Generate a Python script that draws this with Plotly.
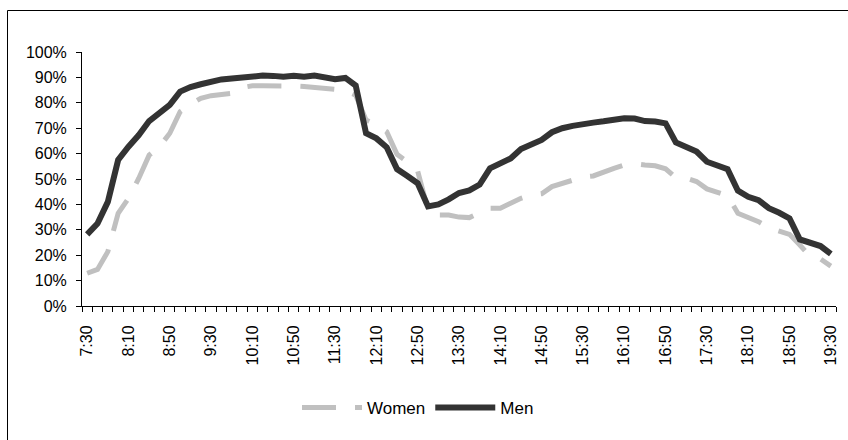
import plotly.graph_objects as go

times = ["7:30", "7:40", "7:50", "8:00", "8:10", "8:20", "8:30", "8:40", "8:50", "9:00",
         "9:10", "9:20", "9:30", "9:40", "9:50", "10:00", "10:10", "10:20", "10:30", "10:40",
         "10:50", "11:00", "11:10", "11:20", "11:30", "11:40", "11:50", "12:00", "12:10", "12:20",
         "12:30", "12:40", "12:50", "13:00", "13:10", "13:20", "13:30", "13:40", "13:50", "14:00",
         "14:10", "14:20", "14:30", "14:40", "14:50", "15:00", "15:10", "15:20", "15:30", "15:40",
         "15:50", "16:00", "16:10", "16:20", "16:30", "16:40", "16:50", "17:00", "17:10", "17:20",
         "17:30", "17:40", "17:50", "18:00", "18:10", "18:20", "18:30", "18:40", "18:50", "19:00",
         "19:10", "19:20", "19:30"]

women = [12.9, 14.4, 21.4, 36.5, 42.4, 50.3, 59.4, 62.7, 68.0, 76.5,
         79.4, 81.8, 82.8, 83.3, 83.7, 86.0, 86.7, 86.7, 86.8, 86.9,
         86.6, 86.4, 86.1, 86.0, 85.3, 84.8, 83.0, 73.2, 71.3, 68.6,
         59.7, 56.8, 53.1, 37.8, 35.8, 35.8, 35.0, 34.8, 36.5, 38.5,
         38.5, 40.4, 42.4, 43.7, 44.2, 47.0, 48.3, 49.9, 50.8, 51.2,
         52.9, 54.2, 55.5, 56.0, 55.5, 55.2, 54.0, 50.5, 50.3, 49.0,
         46.1, 44.5, 43.4, 36.5, 34.8, 33.2, 30.8, 29.5, 28.2, 24.0,
         19.5, 18.5, 15.7]

men = [28.2, 32.5, 41.0, 57.5, 62.7, 67.3, 72.8, 76.0, 79.2, 84.4,
       86.2, 87.3, 88.5, 89.2, 89.6, 90.0, 90.4, 90.7, 90.6, 90.3,
       90.6, 90.3, 90.7, 90.0, 89.3, 89.8, 86.8, 68.0, 66.0, 62.5,
       53.9, 51.2, 48.3, 39.2, 40.0, 42.0, 44.5, 45.5, 47.8, 54.2,
       55.9, 58.1, 61.8, 63.8, 65.4, 68.4, 70.0, 70.9, 71.8, 72.2,
       72.7, 73.5, 73.9, 73.8, 72.8, 72.6, 71.9, 64.4, 62.3, 60.8,
       56.8, 55.5, 53.9, 45.4, 43.0, 41.7, 38.5, 36.7, 34.5, 26.2,
       24.9, 23.6, 20.5]

label_step = 4
y_ticks = [0, 10, 20, 30, 40, 50, 60, 70, 80, 90, 100]
y_labels = ["0%", "10%", "20%", "30%", "40%", "50%", "60%", "70%", "80%", "90%", "100%"]

idx = list(range(len(times)))
tick_idx = idx[::label_step]
tick_txt = [times[i] for i in tick_idx]

FONT = "Liberation Sans, Arial, sans-serif"

fig = go.Figure()
fig.add_trace(go.Scatter(
    x=idx, y=women, name="Women", mode="lines",
    line=dict(color="#C0C0C0", width=5, dash="34px,19px"),
))
fig.add_trace(go.Scatter(
    x=idx, y=men, name="Men", mode="lines",
    line=dict(color="#333333", width=6),
))

W, H = 848, 440
ml, mr, mt, mb = 82, 12, 52, 134
pw, ph = W - ml - mr, H - mt - mb

def px_x(p):
    return (p - ml) / pw

def px_y(p):
    return (H - mb - p) / ph

fig.update_layout(
    width=W, height=H, autosize=False,
    margin=dict(l=ml, r=mr, t=mt, b=mb, pad=0, autoexpand=False),
    paper_bgcolor="white", plot_bgcolor="white",
    font=dict(family=FONT, size=16, color="black"),
    showlegend=True,
    legend=dict(
        orientation="h", x=px_x(418), xanchor="center",
        y=px_y(408), yanchor="middle",
        font=dict(size=17, family=FONT, color="black"),
        bgcolor="rgba(0,0,0,0)", itemwidth=60, tracegroupgap=0,
    ),
    xaxis=dict(
        range=[-0.5, len(times) - 0.5], automargin=False,
        tickmode="array", tickvals=tick_idx, ticktext=tick_txt,
        tickangle=-90, ticks="outside", ticklen=5,
        tickcolor="rgba(0,0,0,0)", showgrid=False, zeroline=False,
        showline=True, linecolor="black", linewidth=1,
        ticklabelstandoff=7,
        tickfont=dict(size=16, family=FONT, color="black"),
        minor=dict(ticks="outside", ticklen=5, tickcolor="black",
                   tick0=-0.5, dtick=1, showgrid=False),
    ),
    yaxis=dict(
        range=[0, 100], tickmode="array", tickvals=y_ticks, ticktext=y_labels,
        ticks="outside", ticklen=5, tickcolor="black", automargin=False,
        showgrid=False, zeroline=False, showline=True,
        linecolor="black", linewidth=1, ticklabelstandoff=6,
        tickfont=dict(size=16, family=FONT, color="black"),
    ),
    shapes=[dict(
        type="rect", xref="paper", yref="paper",
        x0=px_x(7.5), x1=px_x(860), y0=px_y(460), y1=px_y(10.5),
        line=dict(color="black", width=1), fillcolor="rgba(0,0,0,0)",
        layer="below",
    )],
)

fig.write_html(
    "out.html",
    config={"displayModeBar": False},
    post_script="document.body.style.margin='0';document.body.style.overflow='hidden';",
)
